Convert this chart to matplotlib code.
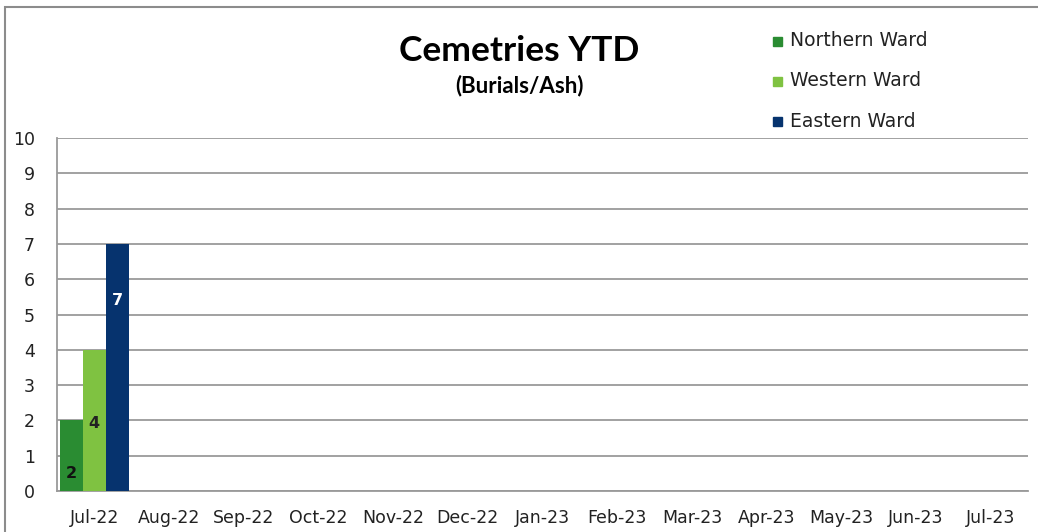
import matplotlib.pyplot as plt
import numpy as np
from matplotlib.patches import Rectangle

months = ["Jul-22", "Aug-22", "Sep-22", "Oct-22", "Nov-22", "Dec-22", "Jan-23",
          "Feb-23", "Mar-23", "Apr-23", "May-23", "Jun-23", "Jul-23"]
northern = [2] + [0] * 12
western = [4] + [0] * 12
eastern = [7] + [0] * 12
series_names = ["Northern Ward", "Western Ward", "Eastern Ward"]
colors = ["#2a8c32", "#7fc241", "#06336e"]
label_colors = ["#111111", "#222222", "#ffffff"]
label_frac = [0.25, 0.48, 0.77]

W, H = 1038, 532
fig = plt.figure(figsize=(W / 100, H / 100), dpi=100)
ax = fig.add_axes([57 / W, 1 - 491 / H, (1028 - 57) / W, (491 - 138) / H])

x = np.arange(len(months))
bw = 0.308
offsets = [-bw, 0, bw]
for vals, name, c, off, lc, lf in zip([northern, western, eastern], series_names,
                                      colors, offsets, label_colors, label_frac):
    bars = ax.bar(x + off, vals, width=bw, color=c, label=name, zorder=3)
    for b, v in zip(bars, vals):
        if v > 0:
            ax.text(b.get_x() + b.get_width() / 2, v * lf, str(v), ha="center",
                    va="center", fontsize=11.5, fontweight="bold", color=lc,
                    family="DejaVu Sans", zorder=4)

ax.set_xlim(-0.5, len(months) - 0.5)
ax.set_ylim(0, 10)
ax.set_yticks(range(0, 11))
ax.set_xticks(x)
ax.set_xticklabels(months)
ax.yaxis.grid(True, color="#9a9a9a", linewidth=1.3, zorder=0)
for s in ["top", "right"]:
    ax.spines[s].set_visible(False)
ax.spines["left"].set_color("#9a9a9a")
ax.spines["bottom"].set_color("#9a9a9a")
ax.spines["left"].set_linewidth(1.3)
ax.spines["bottom"].set_linewidth(1.3)
ax.tick_params(axis="y", length=0, pad=16, labelsize=12.5, colors="#222222")
ax.tick_params(axis="x", length=0, pad=13, labelsize=12.5, colors="#222222")

# chart frame
fig.patches.append(Rectangle((5 / W, -0.1), 1.2, 1 - 7 / H + 0.1,
                             transform=fig.transFigure, fill=False,
                             edgecolor="#8c8c8c", linewidth=1.5))

fig.text(519 / W, 1 - 51 / H, "Cemetries YTD", ha="center", va="center",
         fontsize=25.5, fontweight="bold", family="Lato")
fig.text(519 / W, 1 - 86 / H, "(Burials/Ash)", ha="center", va="center",
         fontsize=16, fontweight="bold", family="Lato")

for i, (name, c) in enumerate(zip(series_names, colors)):
    yy = 1 - (41 + 40 * i) / H
    fig.patches.append(Rectangle((773 / W, yy - 4.5 / H), 9 / W, 9 / H,
                                 transform=fig.transFigure, color=c))
    fig.text(790 / W, yy, name, ha="left", va="center", fontsize=13.5,
             color="#222222")

fig.savefig("out.png", dpi=100)
